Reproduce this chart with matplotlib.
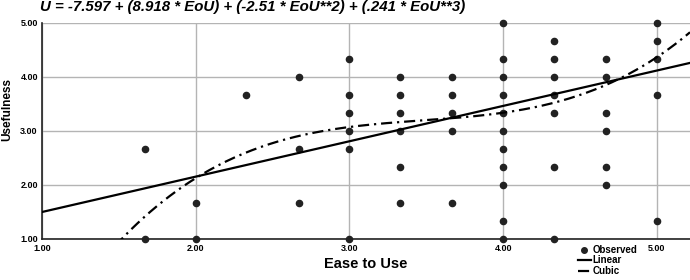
import numpy as np
import matplotlib.pyplot as plt
from matplotlib.lines import Line2D

# observed points (ease of use, usefulness)
ease = [1.67, 1.67, 2.0, 2.0, 2.33, 2.67, 2.67, 2.67,
        3.0, 3.0, 3.0, 3.0, 3.0, 3.0,
        3.33, 3.33, 3.33, 3.33, 3.33, 3.33,
        3.67, 3.67, 3.67, 3.67, 3.67,
        4.0, 4.0, 4.0, 4.0, 4.0, 4.0, 4.0, 4.0, 4.0, 4.0, 4.0,
        4.33, 4.33, 4.33, 4.33, 4.33, 4.33, 4.33,
        4.67, 4.67, 4.67, 4.67, 4.67, 4.67,
        5.0, 5.0, 5.0, 5.0, 5.0]
useful = [2.67, 1.0, 1.67, 1.0, 3.67, 4.0, 2.67, 1.67,
          4.33, 3.67, 3.33, 3.0, 2.67, 1.0,
          4.0, 3.67, 3.33, 3.0, 2.33, 1.67,
          4.0, 3.67, 3.33, 3.0, 1.67,
          5.0, 4.33, 4.0, 3.67, 3.33, 3.0, 2.67, 2.33, 2.0, 1.33, 1.0,
          4.67, 4.33, 4.0, 3.67, 3.33, 2.33, 1.0,
          4.33, 4.0, 3.33, 3.0, 2.33, 2.0,
          5.0, 4.67, 4.33, 3.67, 1.33]

# fitted models
cubic_coef = [-7.597, 8.918, -2.51, 0.241]
linear_coef = [0.845, 0.655]

xticks = [1.0, 2.0, 3.0, 4.0, 5.0]
yticks = [1.0, 2.0, 3.0, 4.0, 5.0]

fig = plt.figure(figsize=(6.9, 2.8), dpi=100)
ax = fig.add_axes([42 / 690, 41 / 280, 1 - 42 / 690, 216 / 280])

xs = np.linspace(1.0, 5.215, 300)
lin = linear_coef[0] + linear_coef[1] * xs
cub = sum(c * xs ** i for i, c in enumerate(cubic_coef))

dashdot = (0, (5, 2.2, 1.0, 2.2))

ax.grid(True, color="#b4b4b4", linewidth=1.0)
ax.set_axisbelow(True)
ax.scatter(ease, useful, s=20, color="#222222", zorder=3, clip_on=False)
ax.plot(xs, lin, color="black", linewidth=1.6, zorder=4)
ax.plot(xs, cub, color="black", linewidth=1.6, zorder=4, linestyle=dashdot)

ax.set_xlim(1.0, 5.215)
ax.set_ylim(1.0, 5.0)
ax.set_xticks(xticks)
ax.set_yticks(yticks)
ax.set_xticklabels([f"{t:.2f}" for t in xticks], fontsize=6.5, fontweight="bold",
                   family="Liberation Sans")
ax.set_yticklabels([f"{t:.2f}" for t in yticks], fontsize=6.5, fontweight="bold",
                   family="Liberation Sans")
ax.tick_params(length=0)
ax.tick_params(axis="x", pad=3.5)
ax.tick_params(axis="y", pad=3)
for s in ["top", "right"]:
    ax.spines[s].set_visible(False)
for s in ["left", "bottom"]:
    ax.spines[s].set_linewidth(1.2)
    ax.spines[s].set_color("#222222")

fig.text(366 / 690, 1 - 264 / 280, "Ease to Use", ha="center", va="center",
         fontsize=10.5, fontweight="bold", family="Liberation Sans")
fig.text(7 / 690, 1 - 110 / 280, "Usefulness", ha="center", va="center",
         rotation=90, fontsize=8.5, fontweight="bold", family="Liberation Sans")
fig.text(40 / 690, 1 - 11 / 280,
         "U = -7.597 + (8.918 * EoU) + (-2.51 * EoU**2) + (.241 * EoU**3)",
         ha="left", va="baseline", fontsize=10.8, fontweight="bold", style="italic",
         family="Liberation Sans")

handles = [
    Line2D([], [], marker="o", linestyle="none", color="#222222", markersize=4),
    Line2D([], [], color="black", linewidth=1.6),
    Line2D([], [], color="black", linewidth=1.6, linestyle=dashdot),
]
fig.legend(handles, ["Observed", "Linear", "Cubic"], loc="upper left",
           bbox_to_anchor=(578 / 690, 1 - 245 / 280), frameon=False,
           prop={"family": "Liberation Sans", "weight": "bold", "size": 7},
           handlelength=1.3, handletextpad=0.2, labelspacing=0.05,
           borderpad=0, borderaxespad=0)

fig.savefig("out.png", dpi=100)
